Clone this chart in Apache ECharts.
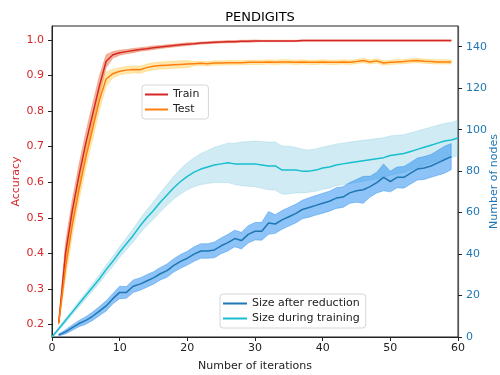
<!DOCTYPE html>
<html>
<head>
<meta charset="utf-8">
<script src="https://cdn.jsdelivr.net/npm/echarts@6/dist/echarts.min.js"></script>
<style>
  html, body { margin: 0; padding: 0; background: #fff; }
  #chart { width: 500px; height: 375px; }
</style>
</head>
<body>
<div id="chart"></div>
<script>
// iterations 1..59 (accuracy + size after reduction), 0..60 for size during training
const iters = [1, 2, 3, 4, 5, 6, 7, 8, 9, 10, 11, 12, 13, 14, 15, 16, 17, 18, 19, 20,
  21, 22, 23, 24, 25, 26, 27, 28, 29, 30, 31, 32, 33, 34, 35, 36, 37, 38, 39, 40,
  41, 42, 43, 44, 45, 46, 47, 48, 49, 50, 51, 52, 53, 54, 55, 56, 57, 58, 59]
const itersFull = [0, 1, 2, 3, 4, 5, 6, 7, 8, 9, 10, 11, 12, 13, 14, 15, 16, 17, 18, 19, 20,
  21, 22, 23, 24, 25, 26, 27, 28, 29, 30, 31, 32, 33, 34, 35, 36, 37, 38, 39, 40,
  41, 42, 43, 44, 45, 46, 47, 48, 49, 50, 51, 52, 53, 54, 55, 56, 57, 58, 59, 60]

const trainAcc = [0.205, 0.40, 0.52, 0.62, 0.71, 0.79, 0.87, 0.94, 0.958, 0.964,
  0.967, 0.970, 0.973, 0.975, 0.978, 0.980, 0.982, 0.984, 0.986, 0.988,
  0.989, 0.991, 0.992, 0.993, 0.994, 0.995, 0.995, 0.996, 0.996, 0.997,
  0.997, 0.997, 0.997, 0.997, 0.997, 0.997, 0.998, 0.998, 0.998, 0.998,
  0.998, 0.998, 0.998, 0.998, 0.998, 0.998, 0.998, 0.998, 0.998, 0.998,
  0.998, 0.998, 0.998, 0.998, 0.998, 0.998, 0.998, 0.998, 0.998]
const trainSpread = [0.005, 0.03, 0.03, 0.03, 0.03, 0.03, 0.028, 0.018, 0.009, 0.007,
  0.006, 0.006, 0.005, 0.005, 0.005, 0.004, 0.004, 0.004, 0.004, 0.004,
  0.003, 0.003, 0.003, 0.003, 0.003, 0.003, 0.003, 0.003, 0.003, 0.003,
  0.002, 0.002, 0.002, 0.002, 0.002, 0.002, 0.002, 0.002, 0.002, 0.002,
  0.002, 0.002, 0.002, 0.002, 0.002, 0.002, 0.002, 0.002, 0.002, 0.002,
  0.002, 0.002, 0.002, 0.002, 0.002, 0.002, 0.002, 0.002, 0.002]

const testAcc = [0.205, 0.36, 0.48, 0.58, 0.67, 0.75, 0.83, 0.89, 0.905, 0.912,
  0.915, 0.917, 0.916, 0.922, 0.926, 0.928, 0.929, 0.930, 0.931, 0.932,
  0.933, 0.934, 0.933, 0.935, 0.935, 0.936, 0.936, 0.936, 0.937, 0.937,
  0.937, 0.938, 0.937, 0.938, 0.938, 0.937, 0.938, 0.937, 0.937, 0.938,
  0.937, 0.937, 0.938, 0.937, 0.939, 0.942, 0.938, 0.941, 0.935, 0.937,
  0.938, 0.939, 0.941, 0.942, 0.940, 0.939, 0.938, 0.938, 0.938]
const testSpread = [0.005, 0.03, 0.03, 0.03, 0.03, 0.03, 0.028, 0.02, 0.012, 0.01,
  0.01, 0.01, 0.01, 0.01, 0.01, 0.01, 0.01, 0.01, 0.01, 0.01,
  0.006, 0.006, 0.006, 0.006, 0.006, 0.006, 0.006, 0.006, 0.006, 0.006,
  0.006, 0.006, 0.006, 0.006, 0.006, 0.006, 0.006, 0.006, 0.006, 0.006,
  0.006, 0.006, 0.006, 0.006, 0.006, 0.006, 0.006, 0.006, 0.006, 0.006,
  0.006, 0.006, 0.006, 0.006, 0.006, 0.006, 0.006, 0.006, 0.006]

const sizeAfter = [1, 2.5, 4.5, 6.5, 8, 10, 12.5, 15, 18.5, 21.5,
  21.5, 24.5, 25.5, 27, 28.5, 30.5, 32, 34.5, 36.5, 38,
  40, 41.5, 41.5, 42, 44, 45.5, 47.5, 46.5, 49.5, 51,
  51, 55, 54.5, 56.5, 58, 59.5, 61.5, 62.5, 63.5, 64.5,
  65.5, 67, 67.5, 69.5, 70.5, 71, 72.5, 74.5, 77, 75,
  77, 77, 79, 81, 81.5, 82.5, 84, 85.5, 87]
const sizeAfterSpread = [0.5, 1, 1.3, 1.5, 1.8, 2, 2.2, 2.5, 2.5, 3,
  2.8, 3, 3, 3, 3, 3, 3.2, 3.2, 3.3, 3.3,
  3.5, 3.5, 3.5, 3.8, 3.8, 4, 4, 4, 4.2, 4.2,
  4.3, 5.5, 4.5, 4.5, 4.5, 4.5, 4.5, 4.7, 4.7, 4.8,
  4.8, 5, 5, 5, 5.5, 6.5, 5, 5, 6.5, 5,
  5, 5.2, 5.2, 5.3, 5.5, 5.5, 6, 6.5, 6.3]

const sizeDuring = [0, 4, 8, 12, 16, 20, 24, 28, 32.5, 36.5, 41,
  45, 49, 53.5, 57.5, 61, 65, 68.5, 72, 75, 77.5,
  79.5, 81, 82, 83, 83.5, 84, 83.5, 83.5, 83.5, 83.5,
  83, 82.5, 82.5, 80.5, 80.5, 80.5, 80, 80, 80.5, 81.5,
  82, 83, 83.5, 84, 84.5, 85, 85.5, 86, 86.5, 87.5,
  88, 88.5, 89.5, 90.5, 91.5, 92.5, 93.5, 94.5, 95, 96]
const sizeDuringSpread = [0.5, 0.8, 1, 1.2, 1.4, 1.6, 1.8, 2, 2.2, 2.4, 2.6,
  2.9, 3.2, 3.5, 3.8, 4.2, 4.6, 5, 5.5, 6, 6.5,
  7, 7.5, 8, 8.5, 9, 9.5, 10, 10.5, 10.8, 11,
  11.3, 11.5, 11.6, 11.6, 11.5, 11, 10.5, 10.2, 10.2, 10.2,
  10.2, 10.1, 10, 10, 10, 9.9, 9.8, 9.7, 9.6, 9.5,
  9.3, 9.1, 9, 8.9, 8.8, 8.7, 8.6, 8.5, 8.5, 8.5]

const accTicks = [0.2, 0.3, 0.4, 0.5, 0.6, 0.7, 0.8, 0.9, 1.0]
const nodeTicks = [0, 20, 40, 60, 80, 100, 120, 140]

const font = 'DejaVu Sans'
const red = '#d62728'
const orange = '#ff7f0e'
const blue = '#1f77b4'
const cyan = '#17becf'

// shaded band mean +/- spread, drawn as one polygon through the axis scales
const band = (key, xs, mean, spread, yAxisIndex, fill, z) => ({
  name: key + '_band', type: 'custom', yAxisIndex, z, silent: true, clip: true,
  encode: { x: 0, y: [1, 2] },
  data: xs.map((x, i) => [x, mean[i] - spread[i], mean[i] + spread[i]]),
  renderItem: (params, api) => {
    if (params.dataIndex !== 0) return null
    const top = xs.map((x, i) => api.coord([x, mean[i] + spread[i]]))
    const bottom = xs.map((x, i) => api.coord([x, mean[i] - spread[i]])).reverse()
    return {
      type: 'polygon',
      shape: { points: top.concat(bottom) },
      style: { fill, stroke: fill, lineWidth: 0.8 }
    }
  }
})

const line = (name, xs, ys, yAxisIndex, color, z) => ({
  name, type: 'line', yAxisIndex, z,
  showSymbol: false, color,
  lineStyle: { width: 1.5, color },
  data: xs.map((x, i) => [x, ys[i]])
})

const chart = echarts.init(document.getElementById('chart'))
const option = {
  animation: false,
  textStyle: { fontFamily: font },
  title: {
    text: 'PENDIGITS',
    left: 255, top: 6, textAlign: 'center',
    textStyle: { fontFamily: font, fontSize: 13, fontWeight: 'normal', color: '#000' }
  },
  grid: {
    left: 52, right: 42, top: 26, bottom: 38,
    outerBoundsMode: 'none', containLabel: false,
    show: true, borderColor: '#222', borderWidth: 1, backgroundColor: 'transparent'
  },
  legend: [
    {
      data: ['Train', 'Test'],
      left: 142, top: 85, orient: 'vertical',
      icon: 'rect', itemWidth: 23, itemHeight: 2, itemGap: 4,
      padding: [4, 9, 4, 3],
      backgroundColor: 'rgba(255,255,255,0.8)', borderColor: '#d6d6d6', borderWidth: 1, borderRadius: 3,
      selectedMode: false,
      textStyle: { fontFamily: font, fontSize: 11, color: '#222' }
    },
    {
      data: ['Size after reduction', 'Size during training'],
      left: 220, top: 294, orient: 'vertical',
      icon: 'rect', itemWidth: 24, itemHeight: 2, itemGap: 4,
      padding: [4, 6, 4, 3],
      backgroundColor: 'rgba(255,255,255,0.8)', borderColor: '#d6d6d6', borderWidth: 1, borderRadius: 3,
      selectedMode: false,
      textStyle: { fontFamily: font, fontSize: 11, color: '#222' }
    }
  ],
  xAxis: {
    type: 'value', min: 0, max: 60, interval: 10,
    name: 'Number of iterations', nameLocation: 'middle', nameGap: 24, nameMoveOverlap: false,
    nameTextStyle: { fontFamily: font, fontSize: 11, color: '#222' },
    axisLine: { onZero: false, lineStyle: { color: '#222' } },
    axisTick: { length: 4, lineStyle: { color: '#222' } },
    axisLabel: { fontFamily: font, fontSize: 11, color: '#222', margin: 6 },
    splitLine: { show: false }
  },
  yAxis: [
    {
      type: 'value', position: 'left', min: 0.165, max: 1.039,
      name: 'Accuracy', nameLocation: 'middle', nameGap: 30, nameRotate: 90, nameMoveOverlap: false,
      nameTextStyle: { fontFamily: font, fontSize: 11, color: red },
      axisLine: { show: true, onZero: false, lineStyle: { color: '#222' } },
      axisTick: { show: true, length: 4, customValues: accTicks, lineStyle: { color: '#222' } },
      axisLabel: {
        fontFamily: font, fontSize: 11, color: red, margin: 8,
        customValues: accTicks, formatter: (v) => v.toFixed(1)
      },
      splitLine: { show: false }
    },
    {
      type: 'value', position: 'right', min: 0, max: 150,
      name: 'Number of nodes', nameLocation: 'middle', nameGap: 31, nameRotate: 90, nameMoveOverlap: false,
      nameTextStyle: { fontFamily: font, fontSize: 11, color: blue },
      axisLine: { show: true, onZero: false, lineStyle: { color: '#555', width: 1.2 } },
      axisTick: { show: true, length: 4, customValues: nodeTicks, lineStyle: { color: '#222' } },
      axisLabel: { fontFamily: font, fontSize: 11, color: blue, margin: 8, customValues: nodeTicks },
      splitLine: { show: false }
    }
  ],
  series: [
    band('train', iters, trainAcc, trainSpread, 0, 'rgba(232,110,60,0.5)', 1),
    line('Train', iters, trainAcc, 0, red, 3),
    band('test', iters, testAcc, testSpread, 0, 'rgba(255,195,50,0.4)', 2),
    line('Test', iters, testAcc, 0, orange, 3),
    band('during', itersFull, sizeDuring, sizeDuringSpread, 1, 'rgba(100,190,215,0.3)', 4),
    band('after', iters, sizeAfter, sizeAfterSpread, 1, 'rgba(30,136,240,0.5)', 5),
    line('Size after reduction', iters, sizeAfter, 1, blue, 6),
    line('Size during training', itersFull, sizeDuring, 1, cyan, 6)
  ]
}
chart.setOption(option)
</script>
</body>
</html>
